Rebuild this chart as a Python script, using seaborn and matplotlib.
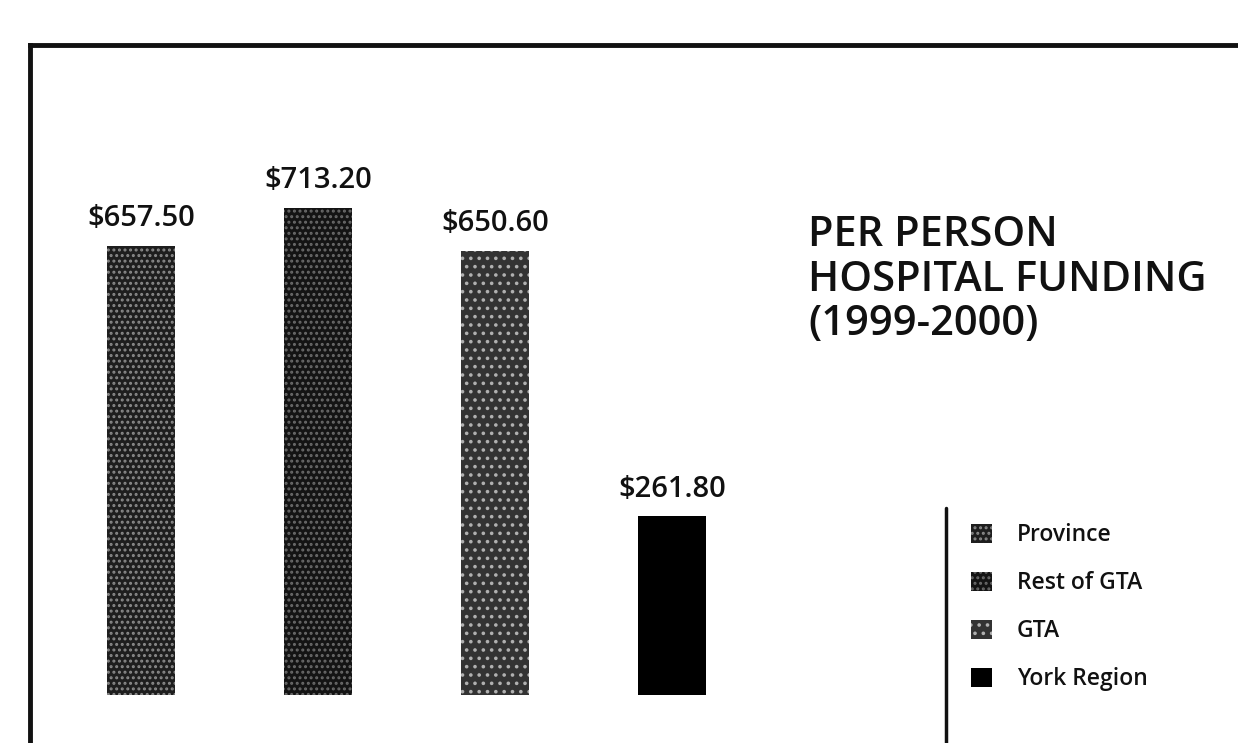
import matplotlib
matplotlib.use("Agg")
import matplotlib.pyplot as plt
import matplotlib.patches as mpatches
import seaborn as sns

# ---- data ----
categories = ["Province", "Rest of GTA", "GTA", "York Region"]
values = [657.50, 713.20, 650.60, 261.80]
value_labels = ["$657.50", "$713.20", "$650.60", "$261.80"]
title_lines = ["PER PERSON", "HOSPITAL FUNDING", "(1999-2000)"]

# ---- style ----
bar_colors = ["#1e1e1e", "#141414", "#333333", "#000000"]
hatch_colors = ["#8a8a8a", "#6a6a6a", "#b0b0b0", "#000000"]
hatches = ["...", "...", "..", ""]

sns.set_theme(style="white")
plt.rcParams["font.family"] = ["Open Sans", "DejaVu Sans"]
plt.rcParams["hatch.linewidth"] = 1.4

W, H = 1238, 743
fig = plt.figure(figsize=(W / 100, H / 100), dpi=100)
fig.patch.set_facecolor("white")

# axes spanning the framed box
ax_left, ax_top = 30, 45
ax = fig.add_axes([ax_left / W, 0, (W - ax_left) / W, (H - ax_top) / H])
ax.set_facecolor("white")

sns.barplot(x=categories, y=values, hue=categories, palette=bar_colors,
            width=0.38, ax=ax, legend=False, saturation=1, linewidth=0)

for cont, hc, ht, lab in zip(ax.containers, hatch_colors, hatches, value_labels):
    for p in cont:
        p.set_edgecolor(hc)
        p.set_linewidth(0)
        p.set_hatch(ht)
    ax.bar_label(cont, labels=[lab], padding=9, fontsize=21,
                 fontweight="semibold", color="#111111")

# scales: baseline at y=695px, ~0.683 px per dollar
s = 0.683
base_px = H - 695
ax_h = H - ax_top
ax.set_ylim(-base_px / s, (ax_h - base_px) / s)
unit = 177.0
c0 = 141 - ax_left
ax.set_xlim(-c0 / unit, (W - ax_left - c0) / unit)

ax.set_xticks([])
ax.set_yticks([])
ax.set_xlabel("")
ax.set_ylabel("")
for side in ["right", "bottom"]:
    ax.spines[side].set_visible(False)
for side in ["top", "left"]:
    ax.spines[side].set_visible(True)
    ax.spines[side].set_linewidth(3.5)
    ax.spines[side].set_color("#111111")

# legend separator line
x_sep = (946 - 141) / unit
ax.axvline(x_sep, ymin=0, ymax=(H - 508) / ax_h, color="#111111", lw=2.5)

# title
fig.text(808 / W, 1 - 214 / H, "\n".join(title_lines), ha="left", va="top",
         fontsize=30, fontweight="semibold", color="#111111", linespacing=1.08)

# legend
handles = [mpatches.Patch(facecolor=c, edgecolor=hc, hatch=ht, linewidth=0, label=l)
           for c, hc, ht, l in zip(bar_colors, hatch_colors, hatches, categories)]
leg = fig.legend(handles=handles, loc="upper left",
                 bbox_to_anchor=(962 / W, 1 - 514 / H), frameon=False,
                 prop={"size": 16.5, "weight": "semibold"},
                 handlelength=0.9, handleheight=0.9,
                 handletextpad=1.1, labelspacing=1.05, borderaxespad=0)
for t in leg.get_texts():
    t.set_color("#111111")

fig.savefig("out.png", dpi=100, facecolor="white")
